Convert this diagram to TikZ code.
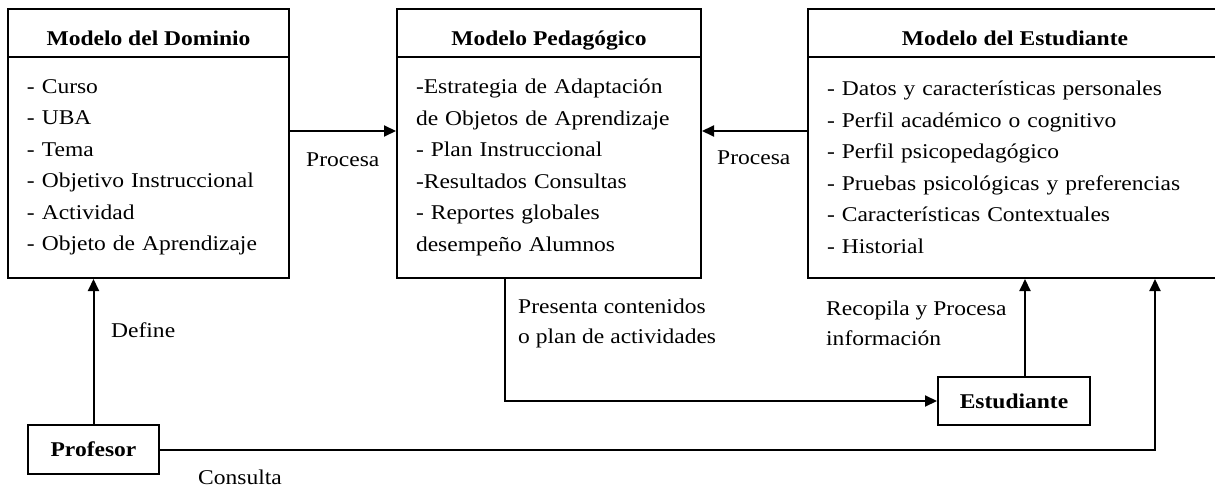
\documentclass[tikz,border=0pt]{standalone}
\usepackage{fontspec}
\setmainfont{Liberation Serif}[FakeStretch=1.12]
\usetikzlibrary{arrows.meta}

\newcommand\textofig{\fontsize{21}{31.5}\selectfont}

\tikzset{
	caja/.style={draw, line width=2pt, inner sep=0pt},
	titulo/.style={caja, minimum height=48pt, text height=26pt, text depth=0pt, font=\textofig\bfseries},
	cuerpo/.style={caja, minimum height=221pt, align=left, inner xsep=19pt, font=\textofig},
	actor/.style={caja, font=\textofig\bfseries},
	flecha/.style={line width=2pt, -{Triangle[length=12pt,width=11pt]}},
	etiqueta/.style={align=left, inner sep=0pt, anchor=west, font=\fontsize{21}{30}\selectfont}
}

\begin{document}
\begin{tikzpicture}[x=1pt,y=-1pt]
	\useasboundingbox (0,0) rectangle (1215,487);

	% los tres modelos
	\node[titulo, minimum width=281pt] (domT) at (148.5,33) {Modelo del Dominio};
	\node[cuerpo, minimum width=281pt, text width=243pt] (dom) at (148.5,167.5)
		{- Curso\\- UBA\\- Tema\\- Objetivo Instruccional\\- Actividad\\- Objeto de Aprendizaje};

	\node[titulo, minimum width=304pt] (pedT) at (549,33) {Modelo Pedagógico};
	\node[cuerpo, minimum width=304pt, text width=266pt] (ped) at (549,167.5)
		{-Estrategia de Adaptación\\de Objetos de Aprendizaje\\- Plan Instruccional\\-Resultados Consultas\\- Reportes globales\\desempeño Alumnos};

	\node[titulo, minimum width=414pt] (estT) at (1015,33) {Modelo del Estudiante};
	\node[cuerpo, minimum width=414pt, text width=376pt] (est) at (1015,167.5)
		{- Datos y características personales\\- Perfil académico o cognitivo\\- Perfil psicopedagógico\\- Pruebas psicológicas y preferencias\\- Características Contextuales\\- Historial};

	% actores
	\node[actor, minimum width=131pt, minimum height=49pt] (prof) at (93.5,449.5) {Profesor};
	\node[actor, minimum width=152pt, minimum height=48pt] (estud) at (1014,401) {Estudiante};

	\coordinate (procY) at (0,131);
	\coordinate (presX) at (505,0);
	\coordinate (recX) at (1025,0);
	\coordinate (conX) at (1155,0);

	% conexiones
	\draw[flecha] (dom.east |- procY) -- (ped.west |- procY);
	\draw[flecha] (est.west |- procY) -- (ped.east |- procY);
	\draw[flecha] (prof.north) -- (prof.north |- dom.south);
	\draw[flecha] (presX |- ped.south) |- (estud.west);
	\draw[flecha] (recX |- estud.north) -- (recX |- est.south);
	\draw[flecha] (prof.east) -| (conX |- est.south);

	\node[etiqueta] (procL1) at (306,160) {Procesa};
	\node[etiqueta] (procL2) at (717,158) {Procesa};
	\node[etiqueta] (defL) at (111,330) {Define};
	\node[etiqueta] (presL) at (518,323) {Presenta contenidos\\o plan de actividades};
	\node[etiqueta] (recL) at (826,323) {Recopila y Procesa\\información};
	\node[etiqueta] (conL) at (198,477) {Consulta};
\end{tikzpicture}
\end{document}
